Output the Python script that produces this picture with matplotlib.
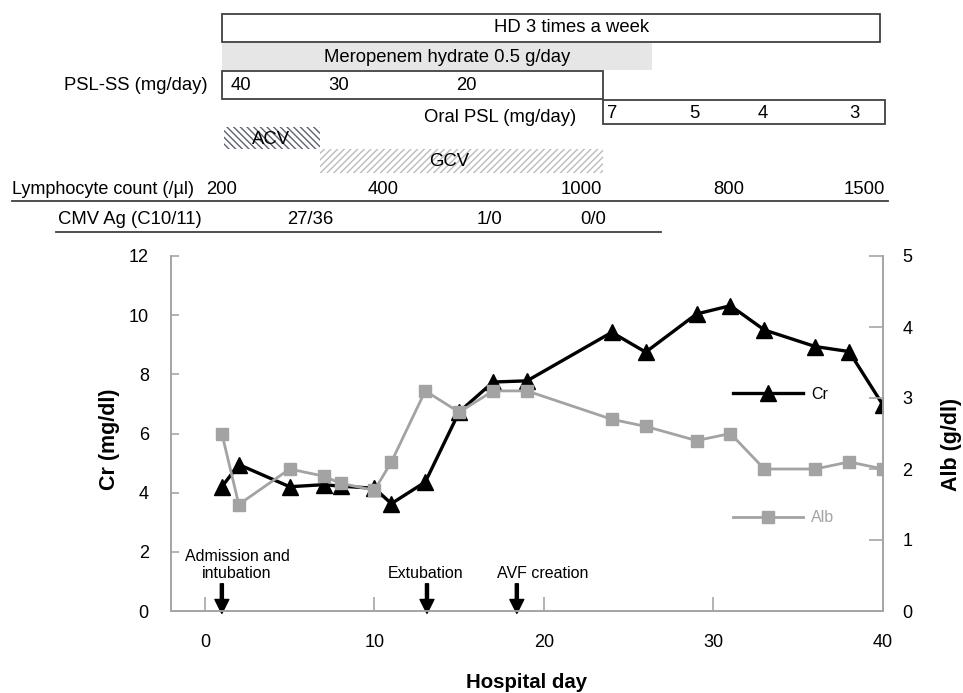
import matplotlib
matplotlib.use("Agg")
import matplotlib.pyplot as plt
from matplotlib.patches import Rectangle

plt.rcParams["font.family"] = ["Liberation Sans", "DejaVu Sans"]
plt.rcParams["hatch.linewidth"] = 1.0

# Laboratory values by hospital day
days = [1, 2, 5, 7, 8, 10, 11, 13, 15, 17, 19, 24, 26, 29, 31, 33, 36, 38, 40]
cr = [4.2, 4.95, 4.2, 4.27, 4.22, 4.15, 3.63, 4.36, 6.73, 7.74, 7.78,
      9.42, 8.75, 10.04, 10.32, 9.5, 8.94, 8.77, 6.96]
alb = [2.5, 1.5, 2.0, 1.9, 1.8, 1.7, 2.1, 3.1, 2.8, 3.1, 3.1,
       2.7, 2.6, 2.4, 2.5, 2.0, 2.0, 2.1, 2.0]

# Clinical events (arrows)
event_days = [1, 13.1, 18.4]
event_text_x = [1.9, 13.0, 19.9]
event_labels = ["Admission and\nintubation", "Extubation", "AVF creation"]

# Treatment timeline (start day, end day)
hd_span = (1.0, 39.8)
mero_span = (1.0, 26.4)
psl_ss_span = (1.0, 23.5)
oral_psl_span = (23.5, 40.1)
acv_span = (1.1, 6.8)
gcv_span = (6.8, 23.5)

psl_ss_days = [2.1, 7.9, 15.4]
psl_ss_doses = ["40", "30", "20"]
oral_psl_days = [24.05, 28.9, 32.9, 38.3]
oral_psl_doses = ["7", "5", "4", "3"]

lymph_days = [1.0, 10.5, 22.2, 30.9, 38.9]
lymph_counts = ["200", "400", "1000", "800", "1500"]
cmv_days = [6.2, 16.8, 22.9]
cmv_values = ["27/36", "1/0", "0/0"]

W, H = 963, 693
fig = plt.figure(figsize=(W / 100, H / 100), dpi=100)

ax_l, ax_r, ax_t, ax_b = 171, 883, 256, 611
ax = fig.add_axes([ax_l / W, 1 - ax_b / H, (ax_r - ax_l) / W, (ax_b - ax_t) / H])
ax2 = ax.twinx()

spine_col = "#a6a6a6"
alb_col = "#a3a3a3"

l_cr, = ax.plot(days, cr, color="black", lw=2.4, marker="^", ms=11,
                markeredgecolor="black", zorder=3)
l_alb, = ax2.plot(days, alb, color=alb_col, lw=2.0, marker="s", ms=9,
                  markeredgecolor=alb_col, zorder=3)

ax.set_xlim(-2, 40)
ax.set_ylim(0, 12)
ax2.set_ylim(0, 5)
ax.set_xticks([0, 10, 20, 30, 40])
ax.set_yticks(range(0, 13, 2))
ax2.set_yticks(range(0, 6))

for a in (ax, ax2):
    a.spines["top"].set_visible(False)
    for s in ("left", "right", "bottom"):
        a.spines[s].set_color(spine_col)
        a.spines[s].set_linewidth(1.3)
ax.tick_params(axis="y", direction="in", length=6, width=1.2, pad=16,
               color=spine_col, labelsize=13)
ax.tick_params(axis="x", direction="in", length=10, width=1.2, pad=16.5,
               color=spine_col, labelsize=13)
ax2.tick_params(axis="y", direction="in", length=10, width=1.2, pad=14,
                color=spine_col, labelsize=13)

# event arrows
for d, tx, lab in zip(event_days, event_text_x, event_labels):
    ax.annotate("", xy=(d, -0.08), xytext=(d, 0.92),
                arrowprops=dict(facecolor="black", edgecolor="black", width=2.2,
                                headwidth=10, headlength=10, shrink=0),
                annotation_clip=False)
    ax.text(tx, 1.12, lab, ha="center", va="baseline", fontsize=11.5,
            linespacing=1.15)

# axis labels
ax.text(-0.0857, 0.4845, "Cr (mg/dl)", transform=ax.transAxes, rotation=90,
        ha="center", va="center", fontsize=15.5, fontweight="bold")
ax.text(1.096, 0.468, "Alb (g/dl)", transform=ax.transAxes, rotation=90,
        ha="center", va="center", fontsize=15.5, fontweight="bold")
ax.text(0.5, -0.2, "Hospital day", transform=ax.transAxes,
        ha="center", va="center", fontsize=14.7, fontweight="bold")

# legends
leg1 = ax2.legend([l_cr], ["Cr"], loc="center left", bbox_to_anchor=(0.789, 0.611),
                  frameon=False, handlelength=4.4, handletextpad=0.5,
                  borderpad=0, borderaxespad=0, fontsize=11.5)
ax2.add_artist(leg1)
leg2 = ax2.legend([l_alb], ["Alb"], loc="center left", bbox_to_anchor=(0.789, 0.262),
                  frameon=False, handlelength=4.4, handletextpad=0.5,
                  borderpad=0, borderaxespad=0, fontsize=11.5)
for t in leg2.get_texts():
    t.set_color(alb_col)

# timeline panel on top, same day scale as the chart
px_per_day = (ax_r - ax_l) / 42.0
top_h = 240
ax_top = fig.add_axes([0, 1 - top_h / H, 1, top_h / H])
ax_top.set_xlim(-2 - ax_l / px_per_day, 40 + (W - ax_r) / px_per_day)
ax_top.set_ylim(top_h, 0)
ax_top.axis("off")

box_col = "#404040"
fs = 13.3


def box(span, y0, y1, **kw):
    ax_top.add_patch(Rectangle((span[0], y0), span[1] - span[0], y1 - y0, **kw))


box(hd_span, 14, 42, facecolor="white", edgecolor=box_col, lw=1.3)
ax_top.text(21.6, 28, "HD 3 times a week", ha="center", va="center", fontsize=fs)

box(mero_span, 43, 70, facecolor="#e6e6e6", edgecolor="none")
ax_top.text(14.3, 57, "Meropenem hydrate 0.5 g/day", ha="center", va="center", fontsize=fs)

box(psl_ss_span, 71, 99, facecolor="white", edgecolor=box_col, lw=1.3)
ax_top.text(0.15, 85, "PSL-SS (mg/day)", ha="right", va="center", fontsize=fs)
for d, v in zip(psl_ss_days, psl_ss_doses):
    ax_top.text(d, 86, v, ha="center", va="center", fontsize=fs)

box(oral_psl_span, 100, 124, facecolor="white", edgecolor=box_col, lw=1.3)
ax_top.text(21.9, 117, "Oral PSL (mg/day)", ha="right", va="center", fontsize=fs)
for d, v in zip(oral_psl_days, oral_psl_doses):
    ax_top.text(d, 113, v, ha="center", va="center", fontsize=fs)

box(acv_span, 127, 149, facecolor="white", edgecolor="#5d6370", lw=0, hatch="\\\\\\\\\\")
ax_top.text(3.9, 139, "ACV", ha="center", va="center", fontsize=fs)
box(gcv_span, 149, 173, facecolor="white", edgecolor="#bcbcbc", lw=0, hatch="/////")
ax_top.text(14.4, 162, "GCV", ha="center", va="center", fontsize=fs)

lymph_x0 = -2 - (ax_l - 12) / px_per_day
ax_top.text(lymph_x0, 190, "Lymphocyte count (/\u00b5l)", ha="left", va="center", fontsize=13)
for d, v in zip(lymph_days, lymph_counts):
    ax_top.text(d, 190, v, ha="center", va="center", fontsize=fs)
ax_top.plot([lymph_x0, 40.3], [201, 201], color=box_col, lw=1.3)

cmv_x0 = -2 - (ax_l - 56) / px_per_day
ax_top.text(cmv_x0 + 0.1, 219, "CMV Ag (C10/11)", ha="left", va="center", fontsize=fs)
for d, v in zip(cmv_days, cmv_values):
    ax_top.text(d, 219, v, ha="center", va="center", fontsize=fs)
ax_top.plot([cmv_x0, 26.9], [232, 232], color=box_col, lw=1.3)

fig.savefig("out.png", dpi=100)
